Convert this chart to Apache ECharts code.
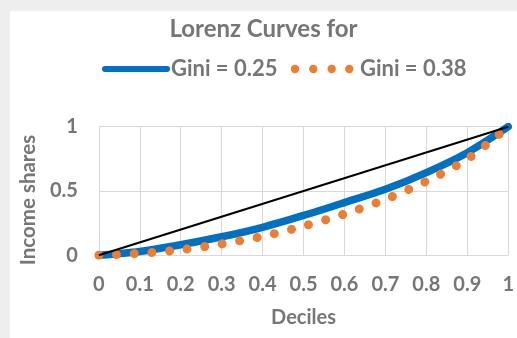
<!DOCTYPE html>
<html>
<head>
<meta charset="utf-8">
<script src="https://cdn.jsdelivr.net/npm/echarts@6/dist/echarts.min.js"></script>
<style>
html,body{margin:0;padding:0;background:#eeeeee;width:517px;height:338px;overflow:hidden;}
#chart{position:absolute;left:10px;top:11px;width:507px;height:327px;background:#ffffff;}
</style>
</head>
<body>
<div id="chart"></div>
<script>
// Data
const deciles = [0, 0.1, 0.2, 0.3, 0.4, 0.5, 0.6, 0.7, 0.8, 0.9, 1];
const gini25 = [0, 0.03, 0.082, 0.144, 0.218, 0.31, 0.41, 0.513, 0.643, 0.798, 1];
const gini38 = [0, 0.015, 0.043, 0.089, 0.147, 0.227, 0.321, 0.435, 0.576, 0.748, 1];
const equalityX = [0, 1];
const equalityY = [0, 1];
const seriesNames = ['Gini = 0.25', 'Gini = 0.38'];
const titleText = 'Lorenz Curves for';
const xName = 'Deciles';
const yName = 'Income shares';

const TXT = '#767676';
const FONT = 'Lato, "Liberation Sans", Arial, sans-serif';
const BLUE = '#0070C0';
const ORANGE = '#ED7D31';

function pairs(xs, ys) { return xs.map((x, i) => [x, ys[i]]); }

const chart = echarts.init(document.getElementById('chart'), null, {renderer: 'canvas'});
chart.setOption({
  animation: false,
  title: {
    text: titleText, left: 'center', top: 6, padding: 0,
    textStyle: {color: TXT, fontFamily: FONT, fontWeight: 'bold', fontSize: 24}
  },
  grid: {left: 84.3, right: 4, top: 115.7, bottom: 82.7, containLabel: false},
  xAxis: {
    type: 'value', min: 0, max: 1, interval: 0.1,
    name: xName, nameLocation: 'middle', nameGap: 52,
    nameTextStyle: {color: TXT, fontFamily: FONT, fontWeight: 'bold', fontSize: 20},
    axisLine: {show: false}, axisTick: {show: false},
    axisLabel: {color: TXT, fontFamily: FONT, fontWeight: 'bold', fontSize: 20, margin: 19},
    splitLine: {show: true, lineStyle: {color: '#d9d9d9', width: 1}}
  },
  yAxis: {
    type: 'value', min: 0, max: 1, interval: 0.5,
    name: yName, nameLocation: 'middle', nameGap: 58,
    nameTextStyle: {color: TXT, fontFamily: FONT, fontWeight: 'bold', fontSize: 20.5, padding: [0, 18, 0, 0]},
    axisLine: {show: false}, axisTick: {show: false},
    axisLabel: {color: TXT, fontFamily: FONT, fontWeight: 'bold', fontSize: 20, margin: 21},
    splitLine: {show: true, lineStyle: {color: '#d9d9d9', width: 1}}
  },
  series: [
    {
      name: seriesNames[0], type: 'line', data: pairs(deciles, gini25),
      showSymbol: false, smooth: 0.3,
      lineStyle: {color: BLUE, width: 7.5, cap: 'round'}, z: 2
    },
    {
      name: seriesNames[1], type: 'line', data: pairs(deciles, gini38),
      showSymbol: false, smooth: 0.3,
      lineStyle: {color: ORANGE, width: 9, type: [0.01, 17.7], cap: 'round'}, z: 3
    },
    {
      name: 'equality', type: 'line', data: pairs(equalityX, equalityY),
      showSymbol: false, lineStyle: {color: '#000000', width: 2}, z: 4
    }
  ],
  graphic: [
    {type: 'line', shape: {x1: 95, y1: 58, x2: 157, y2: 58}, style: {stroke: BLUE, lineWidth: 6, lineCap: 'round'}},
    {type: 'text', x: 161, y: 58, style: {text: seriesNames[0], fill: TXT, font: 'bold 22px ' + FONT, textVerticalAlign: 'middle', verticalAlign: 'middle'}},
    {type: 'circle', shape: {cx: 285, cy: 58, r: 4.2}, style: {fill: ORANGE}},
    {type: 'circle', shape: {cx: 303.3, cy: 58, r: 4.2}, style: {fill: ORANGE}},
    {type: 'circle', shape: {cx: 321.7, cy: 58, r: 4.2}, style: {fill: ORANGE}},
    {type: 'circle', shape: {cx: 339.3, cy: 58, r: 4.2}, style: {fill: ORANGE}},
    {type: 'text', x: 350, y: 58, style: {text: seriesNames[1], fill: TXT, font: 'bold 22px ' + FONT, textVerticalAlign: 'middle', verticalAlign: 'middle'}}
  ]
});
</script>
</body>
</html>
